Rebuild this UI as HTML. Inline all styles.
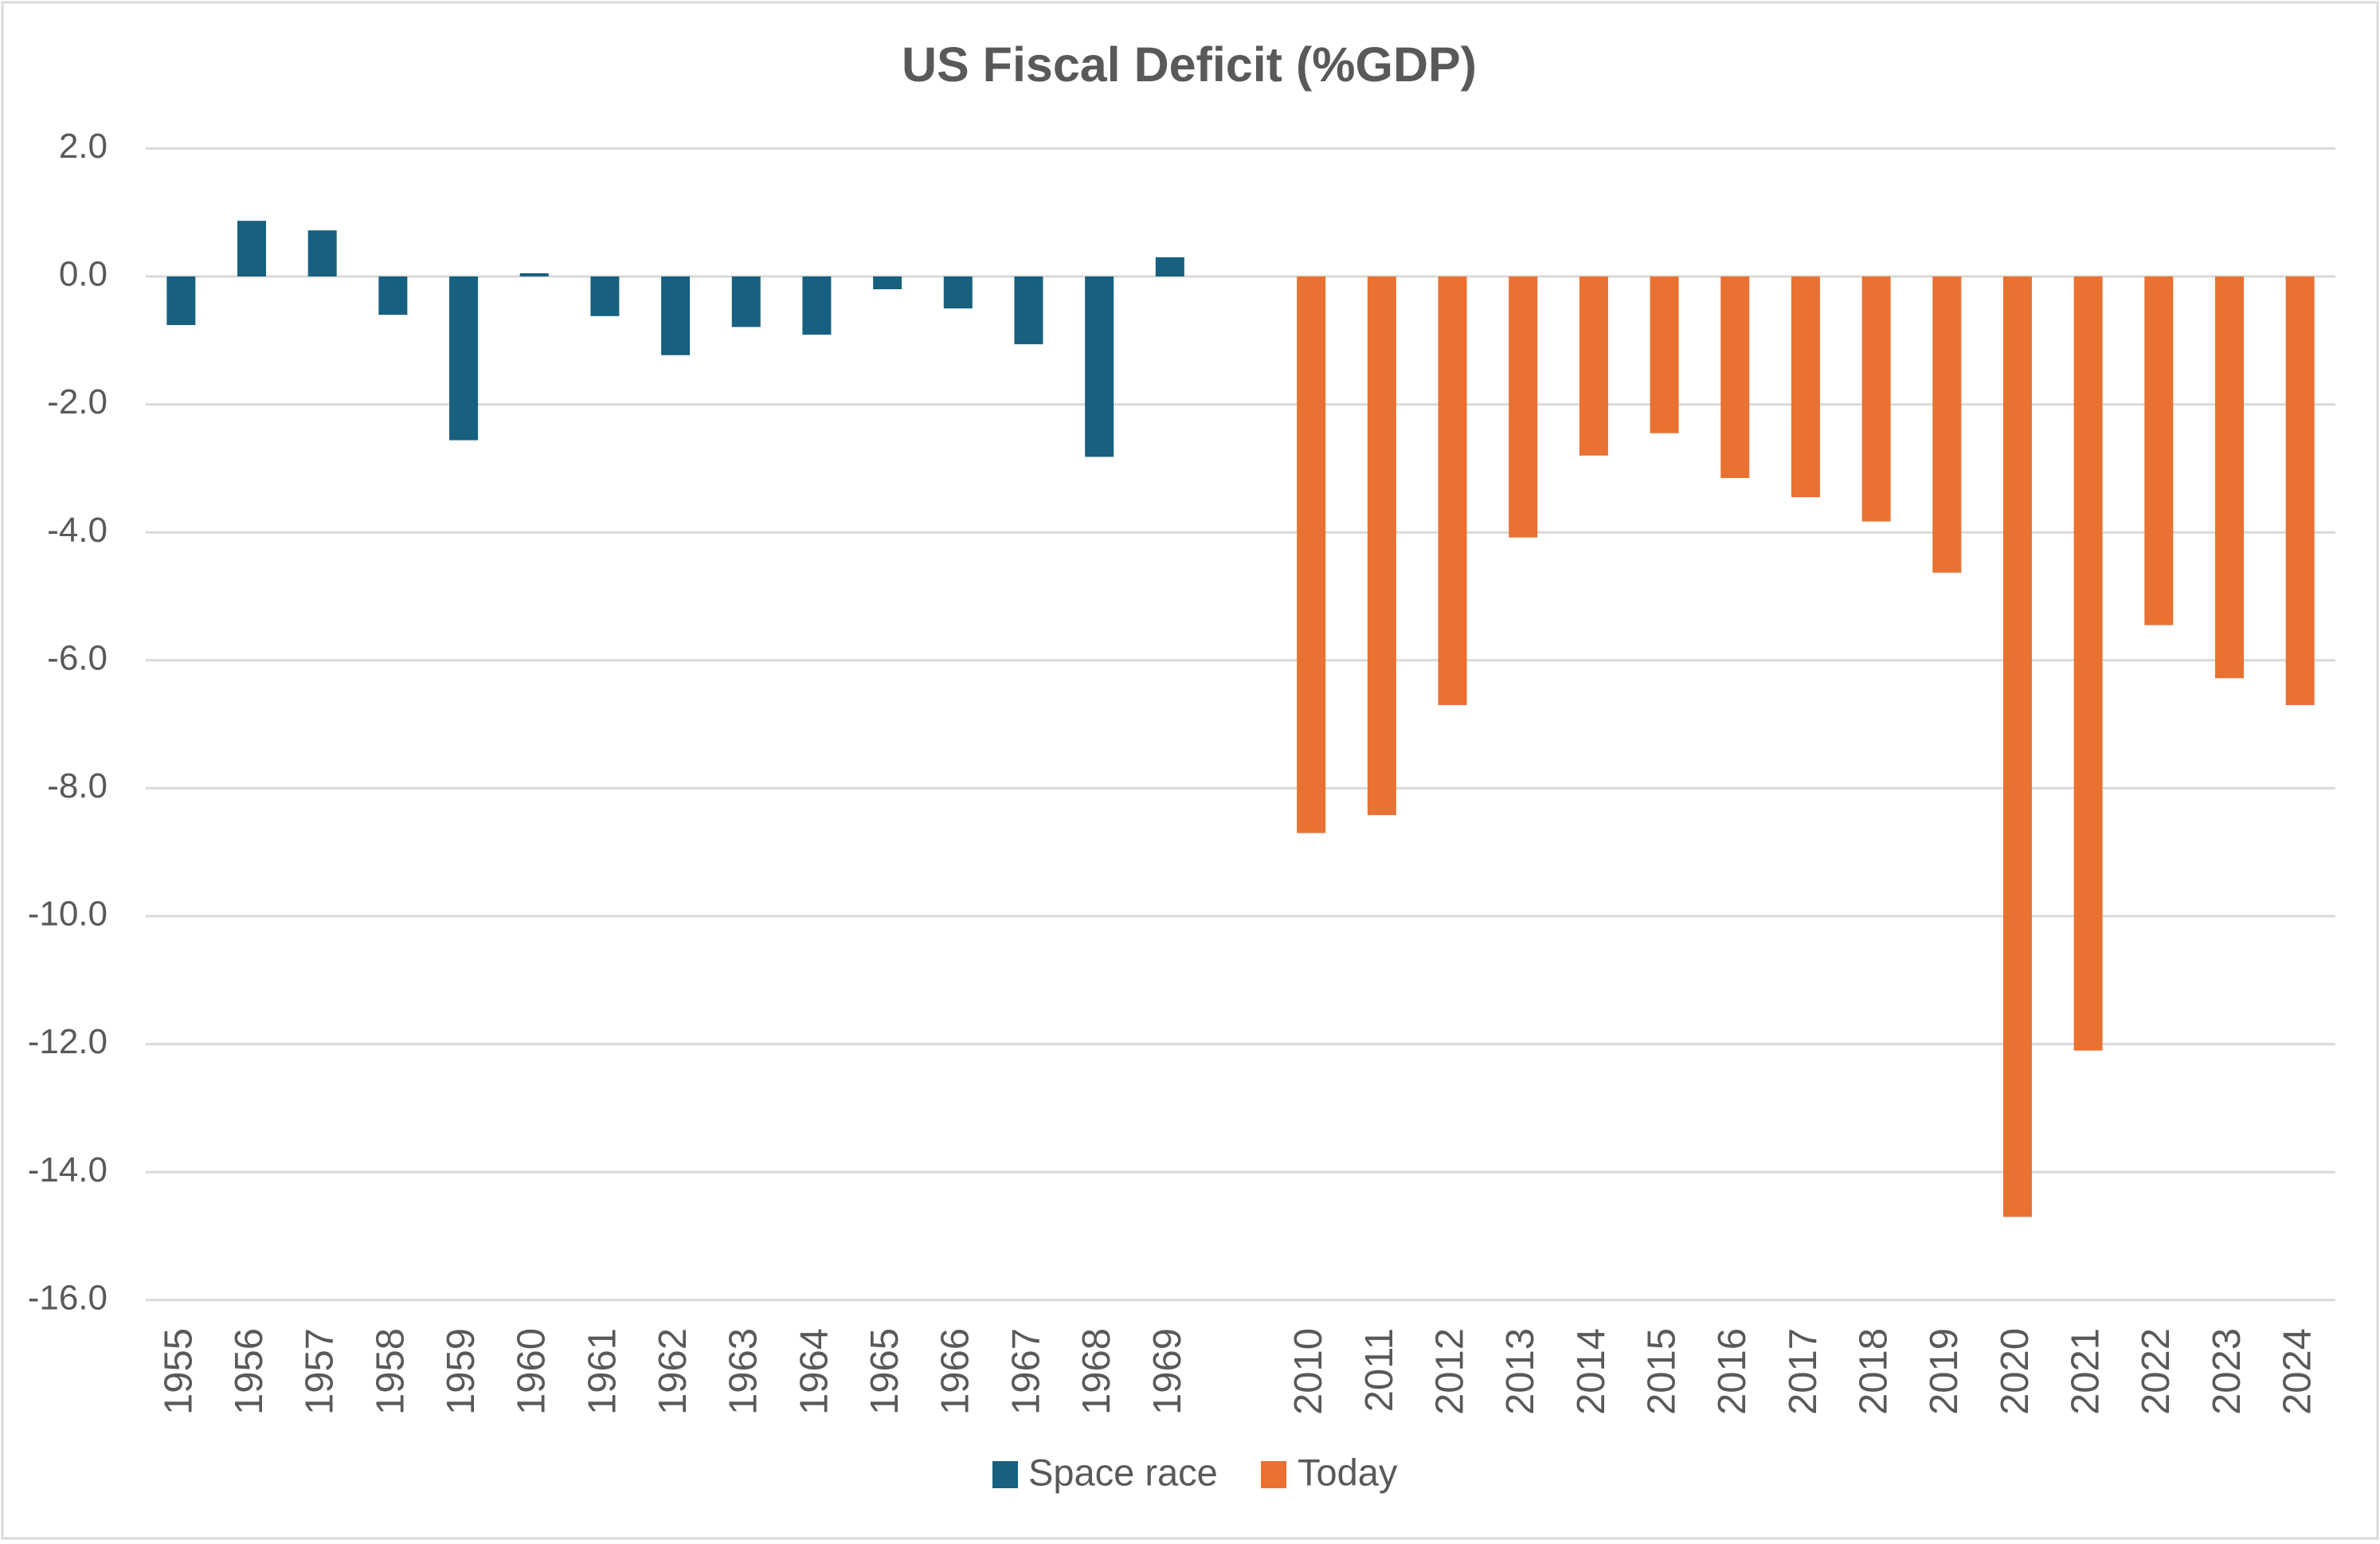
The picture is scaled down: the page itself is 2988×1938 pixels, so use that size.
<!DOCTYPE html>
<html><head><meta charset="utf-8"><style>
html,body{margin:0;padding:0;background:#fff;}
svg{display:block;font-family:"Liberation Sans",sans-serif;}
</style></head><body>
<svg id="chart" width="2988" height="1938" viewBox="0 0 2988 1938">
<rect x="3" y="3" width="2982" height="1928" fill="#fff" stroke="#d9d9d9" stroke-width="3"/>
<text x="1493" y="86" text-anchor="middle" dominant-baseline="middle" font-size="61" font-weight="bold" fill="#595959">US Fiscal Deficit (%GDP)</text>
<g id="grid"></g><g id="bars"></g><g id="xlabels"></g>
<g>
<rect x="1246" y="1834" width="32" height="34" fill="#17607f"/>
<text x="1291" y="1852" dominant-baseline="middle" font-size="47" fill="#595959">Space race</text>
<rect x="1583" y="1834" width="32" height="34" fill="#e97132"/>
<text x="1629" y="1852" dominant-baseline="middle" font-size="47" fill="#595959">Today</text>
</g>
</svg>
<script>
const spaceYears = [1955,1956,1957,1958,1959,1960,1961,1962,1963,1964,1965,1966,1967,1968,1969];
const spaceValues = [-0.76,0.87,0.72,-0.6,-2.56,0.05,-0.62,-1.23,-0.79,-0.91,-0.2,-0.5,-1.06,-2.82,0.3];
const todayYears = [2010,2011,2012,2013,2014,2015,2016,2017,2018,2019,2020,2021,2022,2023,2024];
const todayValues = [-8.7,-8.42,-6.7,-4.08,-2.8,-2.45,-3.15,-3.45,-3.83,-4.63,-14.7,-12.1,-5.45,-6.28,-6.7];
const yTicks = [2,0,-2,-4,-6,-8,-10,-12,-14,-16];

const NS = "http://www.w3.org/2000/svg";
const plotL = 183, plotR = 2932, y0px = 347, unit = 80.3;
const nSlots = spaceYears.length + 1 + todayYears.length;
const slotW = (plotR - plotL) / nSlots;
const barW = 36;
function yScale(v){ return y0px - v * unit; }
function xScale(slot){ return plotL + slotW * (slot + 0.5); }
function mk(tag, attrs){ const e = document.createElementNS(NS, tag); for (const k in attrs) e.setAttribute(k, attrs[k]); return e; }

const grid = document.getElementById('grid');
yTicks.forEach(t => {
  const y = yScale(t);
  const ln = mk('line', {x1: plotL, x2: plotR, y1: y, y2: y, stroke: '#d9d9d9', 'stroke-width': 3});
  
  
  grid.appendChild(ln);
  const tx = mk('text', {x: 135, y: y, 'text-anchor': 'end', 'dominant-baseline': 'middle', 'font-size': 44, fill: '#595959'});
  tx.textContent = t.toFixed(1);
  
  
  grid.appendChild(tx);
});

const bars = document.getElementById('bars');
const xl = document.getElementById('xlabels');
function drawSeries(years, vals, offset, color){
  years.forEach((yr, i) => {
    const cx = xScale(i + offset);
    const v = vals[i];
    const top = Math.min(yScale(v), yScale(0));
    const h = Math.abs(yScale(v) - yScale(0));
    const r = mk('rect', {x: cx - barW/2, y: top, width: barW, height: Math.max(h, 1), fill: color});
    
    
    bars.appendChild(r);
    const t = mk('text', {x: cx, y: 1667, 'text-anchor': 'end', 'dominant-baseline': 'middle', 'font-size': 49, fill: '#595959', transform: 'rotate(-90 ' + cx + ' 1667)'});
    t.textContent = yr;
    
    
    xl.appendChild(t);
  });
}
drawSeries(spaceYears, spaceValues, 0, '#17607f');
drawSeries(todayYears, todayValues, spaceYears.length + 1, '#e97132');
</script>
</body></html>
